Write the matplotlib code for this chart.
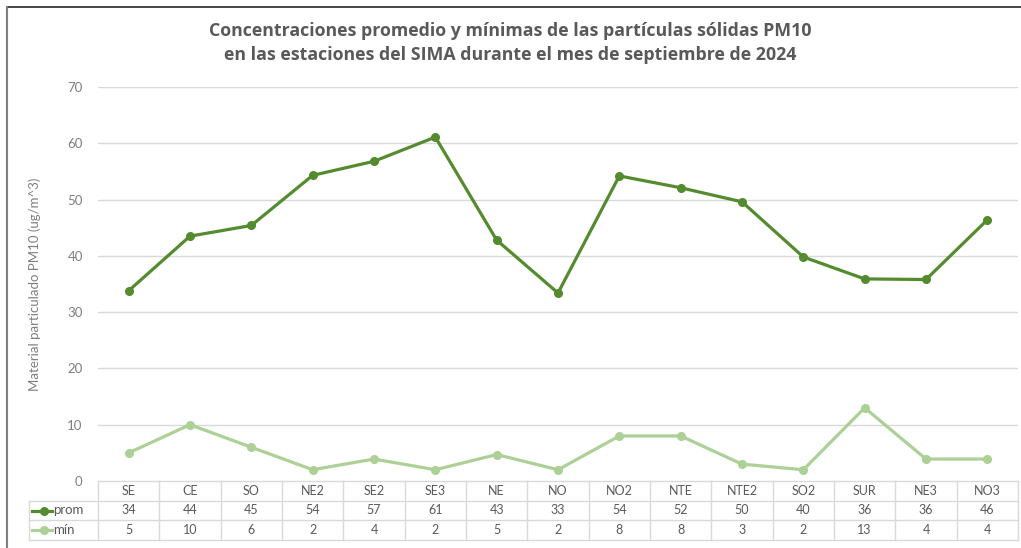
import matplotlib
matplotlib.use("Agg")
import matplotlib.pyplot as plt
from matplotlib.lines import Line2D
import numpy as np

plt.rcParams["font.family"] = ["Lato", "DejaVu Sans"]

stations = ["SE", "CE", "SO", "NE2", "SE2", "SE3", "NE", "NO", "NO2",
            "NTE", "NTE2", "SO2", "SUR", "NE3", "NO3"]
prom = [33.8, 43.5, 45.4, 54.3, 56.8, 61.1, 42.8, 33.4, 54.2,
        52.1, 49.6, 39.8, 35.9, 35.8, 46.4]
minimo = [5.0, 10.0, 6.0, 2.0, 3.9, 2.0, 4.7, 2.0, 8.0,
          8.0, 3.0, 2.0, 13.0, 3.9, 3.9]
yticks = [0, 10, 20, 30, 40, 50, 60, 70]

C_PROM = "#558b2f"
C_MIN = "#acd096"
GRID = "#d9d9d9"
TXT = "#595959"

W, H = 1021, 548
fig = plt.figure(figsize=(W / 100, H / 100), dpi=100)


def fx(px):
    return px / W


def fy(py):
    return 1 - py / H


# main plot area
ax = fig.add_axes([fx(98), fy(481), fx(1018) - fx(98), fy(87) - fy(481)])
x = np.arange(len(stations))
ax.plot(x, prom, "-o", color=C_PROM, lw=2.3, ms=5.5, zorder=3)
ax.plot(x, minimo, "-o", color=C_MIN, lw=2.3, ms=5.5, zorder=3)
ax.set_xlim(-0.5, len(stations) - 0.5)
ax.set_ylim(0, 70)
ax.set_yticks(yticks)
ax.set_xticks([])
for t in yticks[1:]:
    ax.axhline(t, color=GRID, lw=1, zorder=1)
for s in ax.spines.values():
    s.set_visible(False)
ax.tick_params(axis="y", length=0, pad=11, labelsize=9.5, labelcolor="#7f7f7f")
ax.set_ylabel("Material particulado PM10 (ug/m^3)", fontsize=9.5,
              color="#7f7f7f", labelpad=19)

# data table under the plot
tab = fig.add_axes([fx(98), fy(540), fx(1018) - fx(98), fy(481) - fy(540)])
tab.set_xlim(-0.5, len(stations) - 0.5)
tab.set_ylim(0, 3)
tab.axis("off")
lab_left = -0.5 - 69 / 61.33
kw = dict(color=GRID, lw=1, clip_on=False)
tab.plot([-0.5, len(stations) - 0.5], [3, 3], **kw)
for yy in [0, 1, 2]:
    tab.plot([lab_left, len(stations) - 0.5], [yy, yy], **kw)
tab.plot([lab_left, lab_left], [0, 2], **kw)
for i in range(len(stations) + 1):
    tab.plot([i - 0.5, i - 0.5], [0, 3], **kw)
for i, name in enumerate(stations):
    tab.text(i, 2.5, name, ha="center", va="center", fontsize=9, color=TXT)
    tab.text(i, 1.5, f"{prom[i]:.0f}", ha="center", va="center",
             fontsize=9, color=TXT)
    tab.text(i, 0.5, f"{minimo[i]:.0f}", ha="center", va="center",
             fontsize=9, color=TXT)
for yy, lbl, col in [(1.5, "prom", C_PROM), (0.5, "mín", C_MIN)]:
    tab.plot([lab_left + 0.05, lab_left + 0.38], [yy, yy], color=col, lw=2.3,
             clip_on=False)
    tab.plot([lab_left + 0.25], [yy], "o", color=col, ms=5.5, clip_on=False)
    tab.text(lab_left + 0.39, yy, lbl, ha="left", va="center", fontsize=9.5,
             color=TXT)

# title
fig.text(fx(510), fy(43), "Concentraciones promedio y mínimas de las partículas sólidas PM10\n"
         "en las estaciones del SIMA durante el mes de septiembre de 2024",
         ha="center", va="center", fontsize=12.8, fontweight="bold",
         family=["Open Sans", "DejaVu Sans"], color=TXT, linespacing=1.45)

# frame lines
fig.add_artist(Line2D([fx(7), 1], [fy(7), fy(7)], color="#262626", lw=1.2))
fig.add_artist(Line2D([fx(7), fx(7)], [fy(7), 0], color="#7f7f7f", lw=1.5))

fig.savefig("out.png", dpi=100)
